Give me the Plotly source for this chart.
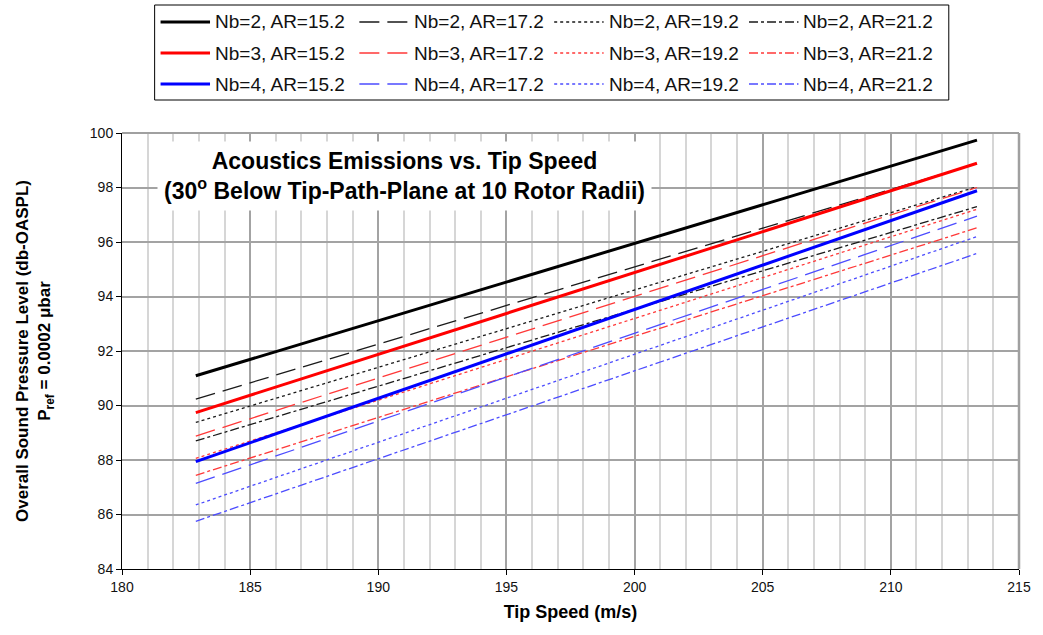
import plotly.graph_objects as go

# Tip speeds: 600 and 700 ft/s expressed in m/s
tip_speed = [182.88, 213.36]

# Overall sound pressure level (dB) for each blade count / aspect ratio
oaspl_nb2_ar152 = [91.09, 99.74]
oaspl_nb2_ar172 = [90.23, 98.88]
oaspl_nb2_ar192 = [89.38, 98.03]
oaspl_nb2_ar212 = [88.70, 97.30]
oaspl_nb3_ar152 = [89.74, 98.89]
oaspl_nb3_ar172 = [88.88, 98.00]
oaspl_nb3_ar192 = [88.06, 97.20]
oaspl_nb3_ar212 = [87.44, 96.52]
oaspl_nb4_ar152 = [87.94, 97.88]
oaspl_nb4_ar172 = [87.14, 96.95]
oaspl_nb4_ar192 = [86.35, 96.20]
oaspl_nb4_ar212 = [85.75, 95.58]

DASH_LONG = "20px,8px"
DASH_DOT = "3px,3px"
DASH_DASHDOT = "9px,3px,3px,3px"

series = [
    ("Nb=2, AR=15.2", oaspl_nb2_ar152, "#000000", "solid", 3),
    ("Nb=2, AR=17.2", oaspl_nb2_ar172, "#1a1a1a", DASH_LONG, 1.3),
    ("Nb=2, AR=19.2", oaspl_nb2_ar192, "#1a1a1a", DASH_DOT, 1.3),
    ("Nb=2, AR=21.2", oaspl_nb2_ar212, "#1a1a1a", DASH_DASHDOT, 1.3),
    ("Nb=3, AR=15.2", oaspl_nb3_ar152, "#ff0000", "solid", 3),
    ("Nb=3, AR=17.2", oaspl_nb3_ar172, "#ff3838", DASH_LONG, 1.3),
    ("Nb=3, AR=19.2", oaspl_nb3_ar192, "#ff3838", DASH_DOT, 1.3),
    ("Nb=3, AR=21.2", oaspl_nb3_ar212, "#ff3838", DASH_DASHDOT, 1.3),
    ("Nb=4, AR=15.2", oaspl_nb4_ar152, "#0000ff", "solid", 3),
    ("Nb=4, AR=17.2", oaspl_nb4_ar172, "#4c4cff", DASH_LONG, 1.3),
    ("Nb=4, AR=19.2", oaspl_nb4_ar192, "#4c4cff", DASH_DOT, 1.3),
    ("Nb=4, AR=21.2", oaspl_nb4_ar212, "#4c4cff", DASH_DASHDOT, 1.3),
]

font_family = "Arial, Liberation Sans, sans-serif"

# plotting area in pixels (used to place the legend box above it)
W, H = 1043, 635
PL, PR, PT, PB = 122, 1029, 133, 569


def px_x(px):
    return (px - PL) / (PR - PL)


def px_y(py):
    return (PB - py) / (PB - PT)


fig = go.Figure()
# thin lines first so the heavy AR=15.2 lines sit on top
order = [i for i in range(len(series)) if series[i][3] != "solid"] + \
        [i for i in range(len(series)) if series[i][3] == "solid"]
for i in order:
    name, values, color, dash, width = series[i]
    fig.add_trace(go.Scatter(
        x=tip_speed, y=values, name=name, mode="lines",
        line=dict(color=color, dash=dash, width=width),
        showlegend=False,
    ))

fig.update_layout(
    width=W, height=H,
    margin=dict(l=PL, r=W - PR, t=PT, b=H - PB),
    paper_bgcolor="white", plot_bgcolor="white",
    font=dict(family=font_family, size=14, color="#111111"),
    showlegend=False,
    xaxis=dict(
        range=[180, 215], dtick=5, tick0=180,
        showgrid=True, gridcolor="#a3a3a3", gridwidth=2,
        minor=dict(dtick=1, showgrid=True, gridcolor="#d6d6d6", gridwidth=2),
        showline=True, linecolor="#000000", linewidth=1,
        ticks="outside", ticklen=5, tickcolor="#000000",
        zeroline=False,
        title=dict(text="<b>Tip Speed (m/s)</b>", font=dict(size=18, color="#000000"), standoff=11),
    ),
    yaxis=dict(
        range=[84, 100], dtick=2, tick0=84,
        showgrid=True, gridcolor="#a3a3a3", gridwidth=2,
        showline=True, linecolor="#000000", linewidth=1,
        ticks="outside", ticklen=5, tickcolor="#000000",
        zeroline=False,
        title=dict(
            text="<b>Overall Sound Pressure Level (db-OASPL)<br>P<sub>ref</sub> = 0.0002 \u03bcbar</b>",
            font=dict(size=17, color="#000000"), standoff=34,
        ),
    ),
)

# gray frame on the top and right of the plotting area
fig.add_shape(type="line", xref="paper", yref="paper", x0=0, x1=1, y0=1, y1=1,
              line=dict(color="#a0a0a0", width=2))
fig.add_shape(type="line", xref="paper", yref="paper", x0=1, x1=1, y0=0, y1=1,
              line=dict(color="#a0a0a0", width=2.5))

# legend: 3 rows (blade count) x 4 columns (aspect ratio)
fig.add_shape(type="rect", xref="paper", yref="paper",
              x0=px_x(155), x1=px_x(958), y0=px_y(100), y1=px_y(5),
              line=dict(color="#000000", width=1), fillcolor="white")
col_start = [161, 362, 559, 756]
row_y = [22, 53, 84]
for i, (name, values, color, dash, width) in enumerate(series):
    r, c = divmod(i, 4)
    x0 = col_start[c]
    fig.add_shape(type="line", xref="paper", yref="paper",
                  x0=px_x(x0), x1=px_x(x0 + 50), y0=px_y(row_y[r]), y1=px_y(row_y[r]),
                  line=dict(color=color, dash=dash, width=width))
    fig.add_annotation(xref="paper", yref="paper", x=px_x(x0 + 53), y=px_y(row_y[r]),
                       xanchor="left", yanchor="middle", text=name, showarrow=False,
                       font=dict(family=font_family, size=19, color="#111111"))

fig.add_annotation(
    xref="paper", yref="paper", x=px_x(408), y=px_y(176), xanchor="center", yanchor="middle",
    text="<b>Acoustics Emissions vs. Tip Speed<br>(30<sup>o</sup> Below Tip-Path-Plane at 10 Rotor Radii)</b>",
    showarrow=False, font=dict(family=font_family, size=23, color="#000000"),
    bgcolor="white", borderpad=6, align="center",
)

fig.write_html("out.html")
